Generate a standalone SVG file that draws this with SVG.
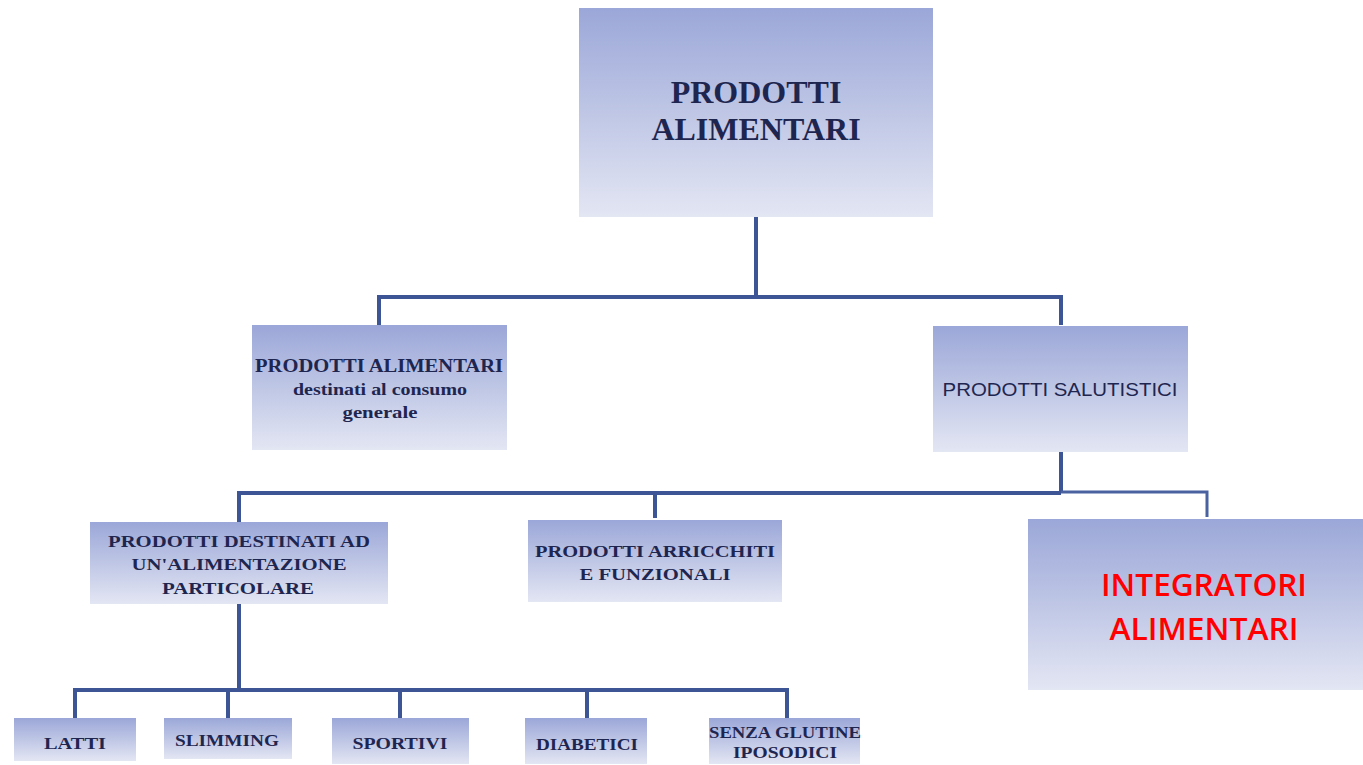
<svg xmlns="http://www.w3.org/2000/svg" width="1363" height="765" viewBox="0 0 1363 765">
<defs>
<linearGradient id="g" x1="0" y1="0" x2="0" y2="1">
<stop offset="0" stop-color="#9ba7d8"/>
<stop offset="1" stop-color="#e3e6f3"/>
</linearGradient>
<style>
.box{fill:url(#g);}
.sf{font-family:"Liberation Serif","Times New Roman",serif;font-weight:bold;fill:#1e2650;text-anchor:middle;}
.ss{font-family:"Liberation Sans",Arial,sans-serif;fill:#1e2650;text-anchor:middle;}
.red{font-family:"Open Sans","Liberation Sans",sans-serif;font-weight:600;fill:#ff0000;text-anchor:middle;}
.c{fill:none;stroke:#3d5595;stroke-width:4;}
.c2{fill:none;stroke:#4a62a0;stroke-width:3;}
</style>
</defs>
<rect width="1363" height="765" fill="#ffffff"/>
<g id="connectors">
<path class="c" d="M756 217 V297 M379 325 V297 H1061 V325"/>
<path class="c" d="M1061 452 V493 M239 522 V493 H1061 M655 518 V493"/>
<path class="c2" d="M1061 492 H1207 V517"/>
<path class="c" d="M239 604 V690 M75 718 V690 H787 V718 M228 718 V690 M400 718 V690 M587 718 V690"/>
</g>
<g id="n-root">
<rect class="box" x="579" y="8" width="354" height="209"/>
<text class="sf" x="756" y="103" font-size="32">PRODOTTI</text>
<text class="sf" x="756" y="140" font-size="32">ALIMENTARI</text>
</g>
<g id="n-generale">
<rect class="box" x="252" y="325" width="255" height="125"/>
<text class="sf" x="379" y="372" font-size="18" textLength="248" lengthAdjust="spacingAndGlyphs">PRODOTTI ALIMENTARI</text>
<text class="sf" x="380" y="395" font-size="17" textLength="174" lengthAdjust="spacingAndGlyphs">destinati al consumo</text>
<text class="sf" x="380" y="418" font-size="17" textLength="75" lengthAdjust="spacingAndGlyphs">generale</text>
</g>
<g id="n-salutistici">
<rect class="box" x="933" y="326" width="255" height="126"/>
<text class="ss" x="1060" y="396" font-size="19" textLength="235" lengthAdjust="spacingAndGlyphs">PRODOTTI SALUTISTICI</text>
</g>
<g id="n-particolare">
<rect class="box" x="90" y="522" width="298" height="82"/>
<text class="sf" x="239" y="547" font-size="17" textLength="262" lengthAdjust="spacingAndGlyphs">PRODOTTI DESTINATI AD</text>
<text class="sf" x="239" y="570" font-size="17" textLength="215" lengthAdjust="spacingAndGlyphs">UN'ALIMENTAZIONE</text>
<text class="sf" x="238" y="594" font-size="17" textLength="152" lengthAdjust="spacingAndGlyphs">PARTICOLARE</text>
</g>
<g id="n-arricchiti">
<rect class="box" x="528" y="520" width="254" height="82"/>
<text class="sf" x="655" y="557" font-size="17" textLength="240" lengthAdjust="spacingAndGlyphs">PRODOTTI ARRICCHITI</text>
<text class="sf" x="655" y="580" font-size="17" textLength="151" lengthAdjust="spacingAndGlyphs">E FUNZIONALI</text>
</g>
<g id="n-integratori">
<rect class="box" x="1028" y="519" width="335" height="171"/>
<text class="red" x="1204" y="596" font-size="30" textLength="206" lengthAdjust="spacingAndGlyphs">INTEGRATORI</text>
<text class="red" x="1204" y="640" font-size="30" textLength="189" lengthAdjust="spacingAndGlyphs">ALIMENTARI</text>
</g>
<g id="n-latti">
<rect class="box" x="14" y="718" width="122" height="43"/>
<text class="sf" x="75" y="749" font-size="16" textLength="62" lengthAdjust="spacingAndGlyphs">LATTI</text>
</g>
<g id="n-slimming">
<rect class="box" x="164" y="718" width="128" height="41"/>
<text class="sf" x="227" y="746" font-size="16" textLength="104" lengthAdjust="spacingAndGlyphs">SLIMMING</text>
</g>
<g id="n-sportivi">
<rect class="box" x="332" y="718" width="137" height="46"/>
<text class="sf" x="400" y="749" font-size="16" textLength="95" lengthAdjust="spacingAndGlyphs">SPORTIVI</text>
</g>
<g id="n-diabetici">
<rect class="box" x="525" y="718" width="122" height="46"/>
<text class="sf" x="587" y="750" font-size="16" textLength="102" lengthAdjust="spacingAndGlyphs">DIABETICI</text>
</g>
<g id="n-senza">
<rect class="box" x="709" y="718" width="151" height="46"/>
<text class="sf" x="785" y="738" font-size="16" textLength="152" lengthAdjust="spacingAndGlyphs">SENZA GLUTINE</text>
<text class="sf" x="785" y="758" font-size="16" textLength="104" lengthAdjust="spacingAndGlyphs">IPOSODICI</text>
</g>
</svg>
